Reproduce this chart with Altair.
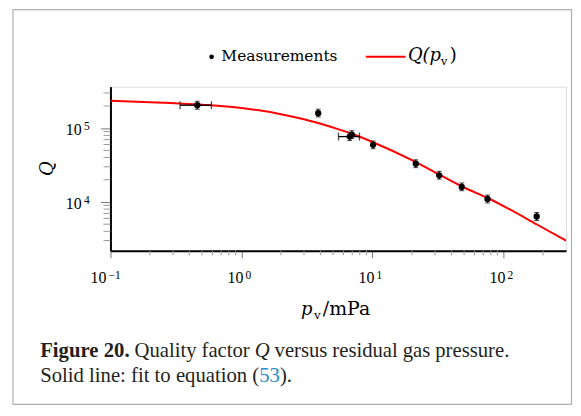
import altair as alt
import pandas as pd

# ---------------- data ----------------
p_meas = [0.46, 3.85, 6.7, 6.95, 10.1, 21.4, 32.3, 48.0, 75.5, 179.0]
q_meas = [2.05e5, 1.60e5, 7.7e4, 8.2e4, 5.95e4, 3.3e4, 2.3e4, 1.6e4, 1.1e4, 6.35e3]
q_lo = [1.81e5, 1.42e5, 6.8e4, 7.26e4, 5.27e4, 2.92e4, 2.04e4, 1.42e4, 9.7e3, 5.6e3]
q_hi = [2.32e5, 1.81e5, 8.7e4, 9.27e4, 6.72e4, 3.73e4, 2.6e4, 1.81e4, 1.24e4, 7.2e3]

xerr_q = [2.05e5, 7.7e4]
xerr_lo = [0.34, 5.5]
xerr_hi = [0.59, 7.95]

fit_p = [0.1, 0.2, 0.5, 1, 2, 3, 5, 7, 10, 20, 30, 50, 75, 100, 180, 300]
fit_q = [2.35e5, 2.25e5, 2.08e5, 1.88e5, 1.55e5, 1.32e5, 1.02e5, 8.4e4, 6.5e4,
         3.68e4, 2.52e4, 1.57e4, 1.14e4, 8.8e3, 4.95e3, 2.99e3]

x_major = [0.1, 1, 10, 100]
x_major_exp = ["−1", "0", "1", "2"]
x_minor = [0.2, 0.3, 0.4, 0.5, 0.6, 0.7, 0.8, 0.9, 2, 3, 4, 5, 6, 7, 8, 9,
           20, 30, 40, 50, 60, 70, 80, 90, 200]
y_major = [1e4, 1e5]
y_major_exp = ["4", "5"]
y_minor = [3e3, 4e3, 5e3, 6e3, 7e3, 8e3, 9e3, 2e4, 3e4, 4e4, 5e4, 6e4, 7e4,
           8e4, 9e4, 2e5, 3e5]

caption_line1 = [("Figure", "bold"), ("20.", "bold"), ("Quality", "normal"),
                 ("factor", "normal"), ("Q", "italic"), ("versus", "normal"),
                 ("residual", "normal"), ("gas", "normal"), ("pressure.", "normal")]
caption_line2 = [("Solid", "normal", True), ("line:", "normal", True),
                 ("fit", "normal", True), ("to", "normal", True),
                 ("equation", "normal", True), ("(", "normal", True),
                 ("53", "link", False), (").", "normal", False)]

W, H = 458, 165

xs = alt.Scale(type="log", domain=[0.1, 300], nice=False)
ys = alt.Scale(type="log", domain=[2180, 3.66e5], nice=False)

xaxis = alt.Axis(values=x_major, labels=False, title=None, grid=False,
                 tickSize=7, tickColor="#777777", tickWidth=1,
                 domainColor="black", domainWidth=2)
yaxis = alt.Axis(values=y_major, labels=False, title=None, grid=False,
                 tickSize=10, tickColor="#777777", tickWidth=1,
                 domainColor="black", domainWidth=2)

X = lambda: alt.X("x:Q", scale=xs, axis=xaxis)
Y = lambda: alt.Y("y:Q", scale=ys, axis=yaxis)

one = pd.DataFrame({"a": [0]})

# border around the whole figure
border = alt.Chart(one).mark_rect(fill=None, stroke="#b0b0b0", strokeWidth=1.2).encode(
    x=alt.value(-98), x2=alt.value(463.5), y=alt.value(-77.5), y2=alt.value(319.5))

# minor ticks
xminor = alt.Chart(pd.DataFrame({"x": x_minor})).mark_rule(
    color="#999999", strokeWidth=1).encode(x=X(), y=alt.value(H), y2=alt.value(H + 4.5))
yminor = alt.Chart(pd.DataFrame({"y": y_minor})).mark_rule(
    color="#999999", strokeWidth=1).encode(y=Y(), x=alt.value(-7), x2=alt.value(0))

# tick labels: "10" plus a superscript exponent
TF = "Liberation Serif"
xlab_df = pd.DataFrame({"x": x_major, "e": x_major_exp,
                        "neg": [e.startswith("−") for e in x_major_exp]})
xl_base_pos = alt.Chart(xlab_df[~xlab_df.neg]).mark_text(
    align="right", baseline="alphabetic", font=TF, fontSize=16, color="black", dx=2
).encode(x=X(), y=alt.value(197.5), text=alt.value("10"))
xl_exp_pos = alt.Chart(xlab_df[~xlab_df.neg]).mark_text(
    align="left", baseline="alphabetic", font=TF, fontSize=11.5, color="black", dx=4
).encode(x=X(), y=alt.value(193), text="e:N")
xl_base_neg = alt.Chart(xlab_df[xlab_df.neg]).mark_text(
    align="right", baseline="alphabetic", font=TF, fontSize=16, color="black", dx=-4
).encode(x=X(), y=alt.value(197.5), text=alt.value("10"))
xl_exp_neg = alt.Chart(xlab_df[xlab_df.neg]).mark_text(
    align="left", baseline="alphabetic", font=TF, fontSize=11.5, color="black", dx=-2
).encode(x=X(), y=alt.value(193), text="e:N")

ylab_df = pd.DataFrame({"y": y_major, "e": y_major_exp})
yl_base = alt.Chart(ylab_df).mark_text(
    align="right", baseline="alphabetic", font=TF, fontSize=16, color="black", dy=7
).encode(y=Y(), x=alt.value(-29), text=alt.value("10"))
yl_exp = alt.Chart(ylab_df).mark_text(
    align="left", baseline="alphabetic", font=TF, fontSize=11.5, color="black", dy=1.8
).encode(y=Y(), x=alt.value(-26.5), text="e:N")

fit = alt.Chart(pd.DataFrame({"x": fit_p, "y": fit_q})).mark_line(
    color="#ff0000", strokeWidth=2, interpolate="monotone", clip=True).encode(x=X(), y=Y())

meas_df = pd.DataFrame({"x": p_meas, "y": q_meas, "y2": q_lo, "y3": q_hi})
yerr = alt.Chart(meas_df).mark_rule(color="black", strokeWidth=1.2).encode(
    x=X(), y=alt.Y("y2:Q", scale=ys, axis=yaxis), y2="y3:Q")
ycap_lo = alt.Chart(meas_df).mark_tick(color="black", orient="horizontal",
                                       size=5, thickness=1).encode(
    x=X(), y=alt.Y("y2:Q", scale=ys, axis=yaxis))
ycap_hi = alt.Chart(meas_df).mark_tick(color="black", orient="horizontal",
                                       size=5, thickness=1).encode(
    x=X(), y=alt.Y("y3:Q", scale=ys, axis=yaxis))

xerr_df = pd.DataFrame({"x": xerr_lo, "x2": xerr_hi, "y": xerr_q})
xerr = alt.Chart(xerr_df).mark_rule(color="black", strokeWidth=1.3).encode(
    x=X(), x2="x2:Q", y=Y())
xcap_df = pd.DataFrame({"x": xerr_lo + xerr_hi, "y": xerr_q + xerr_q})
xcaps = alt.Chart(xcap_df).mark_tick(color="black", orient="vertical",
                                     size=8, thickness=1.3).encode(x=X(), y=Y())

points = alt.Chart(meas_df).mark_circle(color="black", size=40, opacity=1).encode(
    x=X(), y=Y())

SERIF = "DejaVu Serif"


def txt(s, x, y, size, style="normal", align="left", font=SERIF, color="black",
        weight="normal", angle=None, baseline="alphabetic"):
    kw = dict(align=align, baseline=baseline, font=font, fontSize=size,
              fontStyle=style, fontWeight=weight, color=color)
    if angle is not None:
        kw["angle"] = angle
    return alt.Chart(one).mark_text(**kw).encode(
        x=alt.value(x), y=alt.value(y), text=alt.value(s))


# legend
leg_dot = alt.Chart(one).mark_circle(color="black", size=22, opacity=1).encode(
    x=alt.value(101.7), y=alt.value(-30))
leg_line = alt.Chart(one).mark_rule(color="#ff0000", strokeWidth=2).encode(
    x=alt.value(256.7), x2=alt.value(296.7), y=alt.value(-30))
legend = [
    leg_dot, leg_line,
    txt("Measurements", 111.5, -26, 15.5),
    txt("Q(p", 299, -26, 18, style="italic"),
    txt("v", 332, -22, 12),
    txt(")", 341, -26, 18),
]

# axis titles
titles = [
    txt("p", 191.5, 230, 18, style="italic"),
    txt("v", 204.5, 234, 12),
    txt("/mPa", 213.5, 230, 19),
    txt("Q", -63, 82.5, 18, style="italic", align="center", angle=270,
        baseline="middle"),
]

# caption (Times-metric word layout)
REG = {' ': 250, 'a': 444, 'b': 500, 'c': 444, 'd': 500, 'e': 444, 'f': 333,
       'g': 500, 'h': 500, 'i': 278, 'l': 278, 'm': 778, 'n': 500, 'o': 500,
       'p': 500, 'q': 500, 'r': 333, 's': 389, 't': 278, 'u': 500, 'v': 500,
       'y': 500, 'Q': 722, 'S': 556, '.': 250, ':': 278, '(': 333, ')': 333,
       '3': 500, '5': 500}
BOLD = {'F': 611, 'i': 278, 'g': 500, 'u': 556, 'r': 444, 'e': 444, ' ': 250,
        '2': 500, '0': 500, '.': 250}
CS = 20.8
CAP = "Liberation Serif"
TXT_COL = "#231f20"


def wwidth(word, style):
    tab = BOLD if style == "bold" else REG
    return sum(tab.get(ch, 500) for ch in word) * CS / 1000.0


def cap_mark(word, style, x, y):
    return txt(word, x, y, CS, font=CAP,
               style="italic" if style == "italic" else "normal",
               weight="bold" if style == "bold" else "normal",
               color="#2b8ccf" if style == "link" else TXT_COL)


caption = []
x0, right = -70.6, 401.0
widths = [wwidth(w, s) for w, s in caption_line1]
gap = (right - x0 - sum(widths)) / (len(caption_line1) - 1)
x = x0
for (w, s), wd in zip(caption_line1, widths):
    caption.append(cap_mark(w, s, x, 272))
    x += wd + gap
x = x0
first = True
for w, s, sp in caption_line2:
    if sp and not first:
        x += 250 * CS / 1000.0
    caption.append(cap_mark(w, s, x, 297))
    x += wwidth(w, s)
    first = False

chart = alt.layer(
    border, xminor, yminor, fit, yerr, ycap_lo, ycap_hi, xerr, xcaps, points,
    xl_base_pos, xl_exp_pos, xl_base_neg, xl_exp_neg, yl_base, yl_exp,
    *legend, *titles, *caption
).properties(
    width=W, height=H,
    autosize=alt.AutoSizeParams(type="none"),
    padding={"left": 103, "top": 78, "right": 7, "bottom": 155},
).configure_view(stroke=None).configure(background="white")

chart.save("out.html", embed_options={"renderer": "svg", "actions": False})
